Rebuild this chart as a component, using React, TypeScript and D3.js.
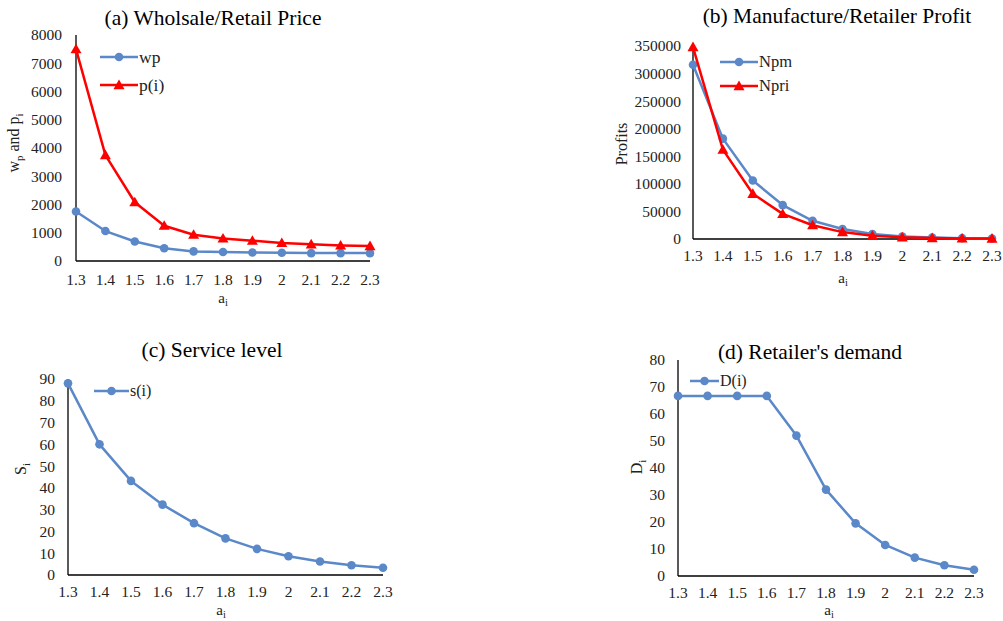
import React from "react";
import * as d3 from "d3";

const aValues = [1.3, 1.4, 1.5, 1.6, 1.7, 1.8, 1.9, 2.0, 2.1, 2.2, 2.3];
const aLabels = ["1.3", "1.4", "1.5", "1.6", "1.7", "1.8", "1.9", "2", "2.1", "2.2", "2.3"];

const wpValues = [1750, 1060, 690, 450, 340, 320, 300, 290, 280, 280, 280];
const pValues = [7500, 3750, 2080, 1250, 930, 800, 720, 640, 590, 550, 530];

const npmValues = [316000, 182000, 106000, 61500, 33000, 18000, 9000, 4500, 2500, 1500, 1000];
const npriValues = [348000, 162000, 82000, 45500, 25000, 12500, 6000, 3000, 1800, 1000, 700];

const sValues = [88, 60, 43.2, 32.3, 23.8, 16.8, 12, 8.6, 6.2, 4.5, 3.3];
const dValues = [66.7, 66.7, 66.7, 66.7, 52, 32, 19.5, 11.5, 6.8, 4, 2.3];

const ticksA = [0, 1000, 2000, 3000, 4000, 5000, 6000, 7000, 8000];
const ticksB = [0, 50000, 100000, 150000, 200000, 250000, 300000, 350000];
const ticksC = [0, 10, 20, 30, 40, 50, 60, 70, 80, 90];
const ticksD = [0, 10, 20, 30, 40, 50, 60, 70, 80];

const BLUE = "#5A88C8";
const RED = "#FF0000";
const FONT = "'Liberation Serif', 'Times New Roman', serif";

type Series = { name: string; values: number[]; color: string; marker: "circle" | "triangle" };

type PanelProps = {
  x0: number; x1: number; yTop: number; yBottom: number;
  yMax: number; yTicks: number[]; tickGap: number; xTickOffset: number;
  title: string; titleX: number; titleY: number;
  yLabel: React.ReactNode; yLabelX: number; yLabelY: number;
  xLabelX: number; xLabelY: number;
  series: Series[];
  legendX: number; legendY: number; legendLen: number; legendGap: number; legendFont: number;
};

function Marker({ type, x, y, color }: { type: string; x: number; y: number; color: string }) {
  if (type === "circle") return <circle cx={x} cy={y} r={4.3} fill={color} />;
  const s = 5.5;
  return <path d={`M${x},${y - s}L${x + s},${y + s * 0.75}L${x - s},${y + s * 0.75}Z`} fill={color} />;
}

function Panel(p: PanelProps) {
  const xs = d3.scaleLinear().domain([1.3, 2.3]).range([p.x0, p.x1]);
  const ys = d3.scaleLinear().domain([0, p.yMax]).range([p.yBottom, p.yTop]);
  const line = d3.line<number>().x((_, i) => xs(aValues[i])).y((v) => ys(v));
  return (
    <g>
      <text x={p.titleX} y={p.titleY} textAnchor="middle" fontSize={21.5} fontFamily={FONT} fill="#000">{p.title}</text>
      <line x1={p.x0} x2={p.x1} y1={p.yBottom} y2={p.yBottom} stroke="#000" strokeWidth={1.3} />
      <line x1={p.x0} x2={p.x0} y1={p.yBottom} y2={p.yTop} stroke="#000" strokeWidth={1.3} />
      {p.yTicks.map((t) => (
        <text key={t} x={p.x0 - p.tickGap} y={ys(t)} dy="0.35em" textAnchor="end" fontSize={15.5} fontFamily={FONT} fill="#222">{t}</text>
      ))}
      {aValues.map((a, i) => (
        <text key={a} x={xs(a)} y={p.yBottom + p.xTickOffset} textAnchor="middle" fontSize={15.5} fontFamily={FONT} fill="#222">{aLabels[i]}</text>
      ))}
      <text x={p.xLabelX} y={p.xLabelY} textAnchor="middle" fontSize={15} fontFamily={FONT} fill="#222">
        a<tspan fontSize={10.5} dy={3}>i</tspan>
      </text>
      <text transform={`translate(${p.yLabelX},${p.yLabelY}) rotate(-90)`} textAnchor="middle" fontSize={16} fontFamily={FONT} fill="#222">
        {p.yLabel}
      </text>
      {p.series.map((s) => (
        <g key={s.name}>
          <path d={line(s.values) || ""} fill="none" stroke={s.color} strokeWidth={2.5} strokeLinejoin="round" />
          {s.values.map((v, i) => (
            <Marker key={i} type={s.marker} x={xs(aValues[i])} y={ys(v)} color={s.color} />
          ))}
        </g>
      ))}
      {p.series.map((s, i) => {
        const ly = p.legendY + i * p.legendGap;
        return (
          <g key={s.name}>
            <line x1={p.legendX} x2={p.legendX + p.legendLen} y1={ly} y2={ly} stroke={s.color} strokeWidth={2.5} />
            <Marker type={s.marker} x={p.legendX + p.legendLen / 2} y={ly} color={s.color} />
            <text x={p.legendX + p.legendLen + 1} y={ly} dy="0.33em" fontSize={p.legendFont} fontFamily={FONT} fill="#222">{s.name}</text>
          </g>
        );
      })}
    </g>
  );
}

export default function App() {
  return (
    <svg width={1003} height={621} style={{ position: "absolute", left: 0, top: 0, background: "#fff" }}>
      <Panel
        x0={76} x1={370} yTop={35} yBottom={261} yMax={8000} yTicks={ticksA} tickGap={14} xTickOffset={24}
        title="(a) Wholsale/Retail Price" titleX={213} titleY={25}
        yLabel={<>w<tspan fontSize={11} dy={4}>p</tspan><tspan dy={-4}> and p</tspan><tspan fontSize={11} dy={4}>i</tspan></>}
        yLabelX={19} yLabelY={143}
        xLabelX={223} xLabelY={303}
        series={[
          { name: "wp", values: wpValues, color: BLUE, marker: "circle" },
          { name: "p(i)", values: pValues, color: RED, marker: "triangle" },
        ]}
        legendX={100} legendY={57} legendLen={38} legendGap={28} legendFont={17.5}
      />
      <Panel
        x0={693} x1={992} yTop={46} yBottom={239} yMax={350000} yTicks={ticksB} tickGap={12} xTickOffset={22}
        title="(b) Manufacture/Retailer Profit" titleX={837} titleY={23}
        yLabel={<>Profits</>}
        yLabelX={627} yLabelY={144}
        xLabelX={843} xLabelY={283}
        series={[
          { name: "Npm", values: npmValues, color: BLUE, marker: "circle" },
          { name: "Npri", values: npriValues, color: RED, marker: "triangle" },
        ]}
        legendX={720} legendY={62} legendLen={38} legendGap={24} legendFont={16.5}
      />
      <Panel
        x0={68} x1={383} yTop={379} yBottom={575} yMax={90} yTicks={ticksC} tickGap={13} xTickOffset={22}
        title="(c) Service level" titleX={212} titleY={357}
        yLabel={<>S<tspan fontSize={11} dy={4}>i</tspan></>}
        yLabelX={26} yLabelY={469}
        xLabelX={221} xLabelY={615}
        series={[{ name: "s(i)", values: sValues, color: BLUE, marker: "circle" }]}
        legendX={94} legendY={391} legendLen={35} legendGap={24} legendFont={16}
      />
      <Panel
        x0={678} x1={974} yTop={360} yBottom={576} yMax={80} yTicks={ticksD} tickGap={13} xTickOffset={22}
        title="(d) Retailer's demand" titleX={810} titleY={359}
        yLabel={<>D<tspan fontSize={11} dy={4}>i</tspan></>}
        yLabelX={642} yLabelY={467}
        xLabelX={829} xLabelY={615}
        series={[{ name: "D(i)", values: dValues, color: BLUE, marker: "circle" }]}
        legendX={690} legendY={381} legendLen={29} legendGap={24} legendFont={16}
      />
    </svg>
  );
}
